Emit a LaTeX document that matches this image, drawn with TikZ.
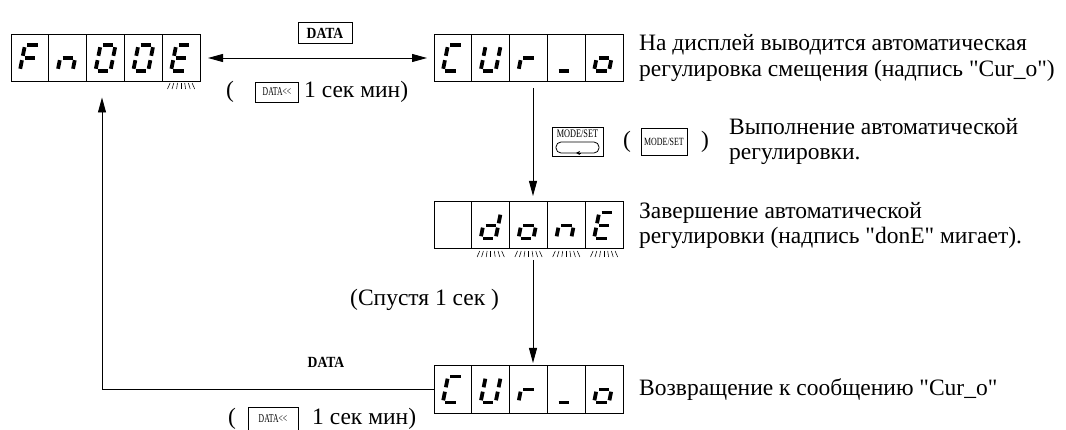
\documentclass[tikz,border=0pt]{standalone}
\usepackage{fontspec}
\setmainfont{Liberation Serif}
\newfontfamily\keyfont[FakeStretch=0.88]{Liberation Serif}
\newfontfamily\keyfontc[FakeStretch=0.72]{Liberation Serif}
\newfontfamily\keyfontx[FakeStretch=0.64]{Liberation Serif}
\usetikzlibrary{arrows.meta}
\newcommand\qq{\textquotedbl}
\newcommand\sgA{\draw[seg] (-5.2,-13)--(5.2,-13);}
\newcommand\sgB{\draw[seg] (7.5,-10.8)--(7.5,-2.2);}
\newcommand\sgC{\draw[seg] (7.5,2.2)--(7.5,10.8);}
\newcommand\sgD{\draw[seg] (-5.2,13)--(5.2,13);}
\newcommand\sgE{\draw[seg] (-7.5,2.2)--(-7.5,10.8);}
\newcommand\sgF{\draw[seg] (-7.5,-10.8)--(-7.5,-2.2);}
\newcommand\sgG{\draw[seg] (-5.2,0)--(5.2,0);}
\newcommand\sevdig[2]{\begin{scope}[shift={#1},xslant=0.2]#2\end{scope}}
\newcommand\glowmk[2]{\foreach \dx/\k in {-11/-2.6,-7.3/-1.8,-3.6/-0.9,0/0,3.6/0.9,7.3/1.8,11/2.6}{\draw[line width=0.55pt] (#1+\dx,#2) -- ++(\k,6);}}
\newcommand\cellsep[2]{\foreach \i in {1,...,4} \draw[line width=1pt] (#1+\i*37.8,#2) -- (#1+\i*37.8,#2+47);}
\begin{document}
\begin{tikzpicture}[x=1pt,y=-1pt,
  seg/.style={line width=3.8pt},
  disp/.style={draw,line width=1pt,inner sep=0pt,minimum width=189pt,minimum height=47pt},
  conn/.style={line width=0.9pt,-{Triangle[length=15pt,width=8pt]}},
  biconn/.style={line width=0.9pt,{Triangle[length=15pt,width=8pt]}-{Triangle[length=15pt,width=8pt]}},
  lbl/.style={anchor=west,align=left,inner sep=0pt,font=\fontsize{23.5}{25.5}\selectfont},
  txt/.style={inner sep=0pt,font=\fontsize{23.5}{25.5}\selectfont},
  keybox/.style={draw,line width=0.8pt,inner sep=0pt},
  ]
\fill[white] (0,0) rectangle (1066,430);
\useasboundingbox (0,0) rectangle (1066,430);

% display 1: F n 0 0 E
\node[disp] (d1) at (105.5,58) {};
\cellsep{11}{34.5}
\sevdig{(29.9,58)}{\sgA\sgE\sgF\sgG}
\sevdig{(67.7,58)}{\sgC\sgE\sgG}
\sevdig{(105.5,58)}{\sgA\sgB\sgC\sgD\sgE\sgF}
\sevdig{(143.3,58)}{\sgA\sgB\sgC\sgD\sgE\sgF}
\sevdig{(181.1,58)}{\sgA\sgD\sgE\sgF\sgG}
\glowmk{181.1}{83}

% display 2: C U r _ o
\node[disp] (d2) at (528.5,58) {};
\cellsep{434}{34.5}
\sevdig{(452.9,58)}{\sgA\sgD\sgE\sgF}
\sevdig{(490.7,58)}{\sgB\sgC\sgD\sgE\sgF}
\sevdig{(528.5,58)}{\sgE\sgG}
\sevdig{(566.3,58)}{\sgD}
\sevdig{(604.1,58)}{\sgC\sgD\sgE\sgG}

% display 3: blank d o n E
\node[disp] (d3) at (528.5,225.5) {};
\cellsep{434}{202}
\sevdig{(490.7,225.5)}{\sgB\sgC\sgD\sgE\sgG}
\sevdig{(528.5,225.5)}{\sgC\sgD\sgE\sgG}
\sevdig{(566.3,225.5)}{\sgC\sgE\sgG}
\sevdig{(604.1,225.5)}{\sgA\sgD\sgE\sgF\sgG}
\glowmk{490.7}{251}
\glowmk{528.5}{251}
\glowmk{566.3}{251}
\glowmk{604.1}{251}

% display 4: C U r _ o
\node[disp] (d4) at (528.5,389.5) {};
\cellsep{434}{366}
\sevdig{(452.9,389.5)}{\sgA\sgD\sgE\sgF}
\sevdig{(490.7,389.5)}{\sgB\sgC\sgD\sgE\sgF}
\sevdig{(528.5,389.5)}{\sgE\sgG}
\sevdig{(566.3,389.5)}{\sgD}
\sevdig{(604.1,389.5)}{\sgC\sgD\sgE\sgG}

% connector end points
\coordinate (c1a) at (208,58);
\coordinate (c1b) at (427,58);
\coordinate (v1a) at (533,88);
\coordinate (v1b) at (533,196);
\coordinate (v2a) at (533,260);
\coordinate (v2b) at (533,363);
\coordinate (rt) at (102,97.5);

\draw[biconn] (c1a) -- (c1b);
\draw[conn] (v1a) -- (v1b);
\draw[conn] (v2a) -- (v2b);
\draw[conn] (d4.west) -| (rt);

% keys and labels, top
\node[keybox,minimum width=54pt,minimum height=21pt,font=\keyfont\fontsize{15.5}{15.5}\selectfont\bfseries] (kd1) at (325,33) {DATA};
\node[txt] (p1a) at (230,92) {(};
\node[keybox,minimum width=43pt,minimum height=20pt,font=\keyfontx\fontsize{12}{12}\selectfont] (kd2) at (277,92) {DATA<<};
\node[lbl] (p1b) at (304,92) {1 сек мин)};

\node[lbl] (t2) at (639,58) {На дисплей выводится автоматическая\\регулировка смещения (надпись \qq Cur\_o\qq)};

% MODE/SET icon
\node[keybox,minimum width=51pt,minimum height=29pt] (ms1) at (577.5,141.5) {};
\node[inner sep=0pt,font=\keyfontc\fontsize{11.5}{11.5}\selectfont] (ms1t) at (577.5,133.5) {MODE/SET};
\draw[line width=0.8pt,rounded corners=5pt] (556,142) rectangle (599,153);
\draw[line width=0.6pt,-{Stealth[length=4pt,width=4pt]}] (581,153) -- (576,153);
\node[txt] (p2a) at (627,141.5) {(};
\node[keybox,minimum width=46pt,minimum height=27pt,font=\keyfontc\fontsize{11}{11}\selectfont] (ms2) at (664,141.5) {MODE/SET};
\node[txt] (p2b) at (705,141.5) {)};
\node[lbl] (t3) at (729,141.5) {Выполнение автоматической\\регулировки.};

\node[lbl] (t4) at (639,225.5) {Завершение автоматической\\регулировки (надпись \qq donE\qq\ мигает).};

\node[lbl] (t5) at (350,300) {(Спустя 1 сек )};

\node[inner sep=0pt,font=\keyfont\fontsize{15.5}{15.5}\selectfont\bfseries] (kd3) at (326,362) {DATA};
\node[lbl] (t6) at (639,389.5) {Возвращение к сообщению \qq Cur\_o\qq};

\node[txt] (p3a) at (232,419) {(};
\node[keybox,minimum width=50pt,minimum height=24pt,font=\keyfontx\fontsize{12}{12}\selectfont] (kd4) at (273,419) {DATA<<};
\node[lbl] (p3b) at (312,419) {1 сек мин)};
\end{tikzpicture}
\end{document}
